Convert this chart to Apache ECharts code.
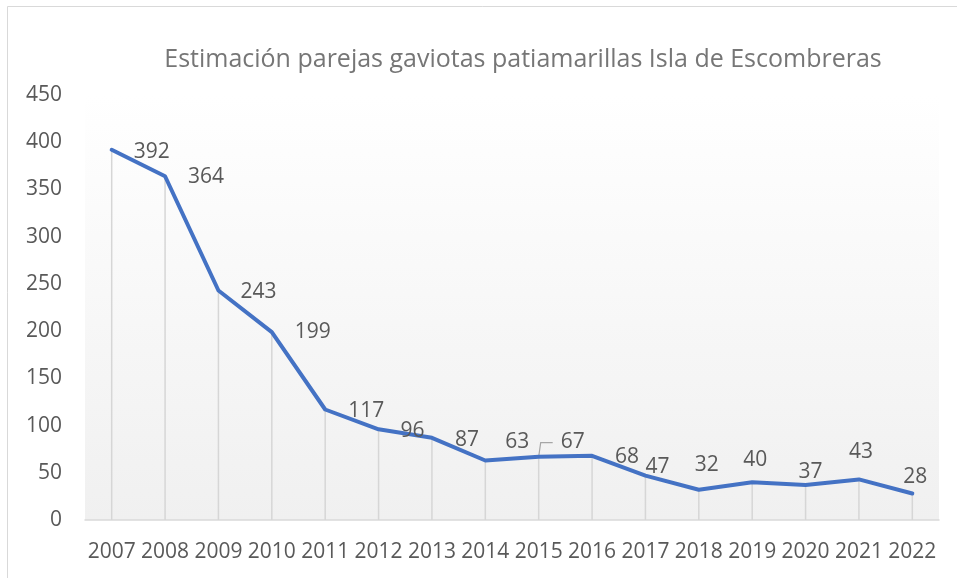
<!DOCTYPE html>
<html>
<head>
<meta charset="utf-8">
<script src="https://cdn.jsdelivr.net/npm/echarts@6/dist/echarts.min.js"></script>
<style>
  html, body { margin: 0; padding: 0; background: #ffffff; }
  #chart { width: 957px; height: 578px; }
</style>
</head>
<body>
<div id="chart"></div>
<script>
// Annual estimate of breeding pairs
const years = ['2007', '2008', '2009', '2010', '2011', '2012', '2013', '2014',
               '2015', '2016', '2017', '2018', '2019', '2020', '2021', '2022'];
const pairs = [392, 364, 243, 199, 117, 96, 87, 63, 67, 68, 47, 32, 40, 37, 43, 28];

// Value-axis ticks
const yMin = 0;
const yMax = 450;
const yStep = 50;

// Where each value label sits relative to its point (centre offset, px)
const labelOffsets = [
  [40, 2], [41, 1], [40, 2], [41, 0], [41, 2], [34, 2], [35, 2], [32, -18],
  [34, -15], [35, 1], [12, -9], [8, -25], [3, -22], [5, -13], [2, -27], [3, -17]
];
// Label drawn with a leader line back to its point
const leaderIndex = 8;

const FONT = '"Open Sans", "Noto Sans", sans-serif';
const TEXT = '#595959';

const border = {
  type: 'rect',
  silent: true,
  shape: { x: 7.5, y: 6.5, width: 1000, height: 700 },
  style: { fill: 'none', stroke: '#d9d9d9', lineWidth: 1 }
};

const chart = echarts.init(document.getElementById('chart'), null, { renderer: 'canvas' });

const lineData = pairs.map((v, i) => ({
  value: v,
  label: { offset: labelOffsets[i] }
}));

chart.setOption({
  animation: false,
  backgroundColor: '#ffffff',
  title: {
    text: 'Estimación parejas gaviotas patiamarillas Isla de Escombreras',
    left: 518,
    textAlign: 'center',
    top: 42,
    textStyle: { fontFamily: FONT, fontSize: 25, fontWeight: 'normal', color: '#767676' }
  },
  graphic: [border],
  grid: {
    left: 85, right: 18, top: 95, bottom: 58,
    show: true,
    borderWidth: 0,
    backgroundColor: new echarts.graphic.LinearGradient(0, 0, 0, 1, [
      { offset: 0, color: '#ffffff' },
      { offset: 1, color: '#f0f0f0' }
    ])
  },
  xAxis: {
    type: 'category',
    data: years,
    boundaryGap: true,
    axisLine: { show: true, lineStyle: { color: '#d9d9d9', width: 1.5 } },
    axisTick: { show: false },
    axisLabel: { fontFamily: FONT, fontSize: 21, color: TEXT, margin: 22, interval: 0 }
  },
  yAxis: {
    type: 'value',
    min: yMin, max: yMax, interval: yStep,
    axisLine: { show: false },
    axisTick: { show: false },
    splitLine: { show: false },
    axisLabel: { fontFamily: FONT, fontSize: 21, color: TEXT, margin: 23 }
  },
  series: [
    {
      // drop lines from each point down to the category axis
      type: 'bar',
      data: pairs,
      barWidth: 1.5,
      silent: true,
      itemStyle: { color: '#d6d6d6' },
      z: 1
    },
    {
      type: 'line',
      data: lineData,
      symbol: 'circle',
      symbolSize: 1,
      lineStyle: { color: '#4472c4', width: 4, cap: 'round', join: 'round' },
      itemStyle: { color: '#4472c4' },
      label: {
        show: true,
        position: 'inside',
        fontFamily: FONT,
        fontSize: 21,
        color: TEXT
      },
      z: 3
    }
  ]
});

// Leader line from the displaced label back to its point
const p = chart.convertToPixel({ seriesIndex: 1 }, [leaderIndex, pairs[leaderIndex]]);
const off = labelOffsets[leaderIndex];
const bendY = p[1] + off[1] + 1;
chart.setOption({
  graphic: [
    border,
    {
      type: 'polyline',
      silent: true,
      z: 2,
      shape: { points: [[p[0], p[1]], [p[0] + 2, bendY], [p[0] + 14, bendY]] },
      style: { fill: 'none', stroke: '#a6a6a6', lineWidth: 1.2 }
    }
  ]
});
</script>
</body>
</html>
